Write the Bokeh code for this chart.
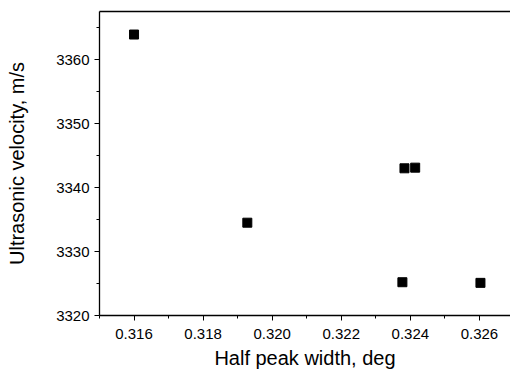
from bokeh.plotting import figure
from bokeh.models import LinearAxis, ColumnDataSource, Range1d, FixedTicker
from bokeh.embed import file_html
from bokeh.resources import INLINE

half_peak_width = [0.3160, 0.31928, 0.32383, 0.32414, 0.32377, 0.32603]
velocity = [3363.9, 3334.5, 3343.0, 3343.1, 3325.2, 3325.1]

x_ticks = [0.316, 0.318, 0.320, 0.322, 0.324, 0.326]
y_ticks = [3320, 3330, 3340, 3350, 3360]

FONT = "Liberation Sans"

p = figure(width=510, height=372, output_backend="svg", toolbar_location=None,
           x_range=Range1d(0.315, 0.3269), y_range=Range1d(3320, 3367.5),
           min_border_left=99, min_border_right=0, min_border_top=11, min_border_bottom=57)
p.outline_line_color = None
p.grid.visible = False
p.background_fill_color = "white"
p.border_fill_color = "white"

src = ColumnDataSource(dict(x=half_peak_width, y=velocity))
p.scatter("x", "y", source=src, marker="square", size=9, fill_color="black", line_color="black")

for ax in (p.xaxis[0], p.yaxis[0]):
    ax.axis_line_color = "black"
    ax.axis_line_width = 1.3
    ax.major_tick_line_color = "black"
    ax.minor_tick_line_color = "black"
    ax.major_tick_in = 0
    ax.major_tick_out = 5
    ax.minor_tick_in = 0
    ax.minor_tick_out = 3
    ax.major_label_text_font = FONT
    ax.major_label_text_font_size = "15px"
    ax.major_label_text_color = "black"
    ax.axis_label_text_font = FONT
    ax.axis_label_text_font_size = "20px"
    ax.axis_label_text_font_style = "normal"
    ax.axis_label_text_color = "black"

p.xaxis[0].ticker = FixedTicker(ticks=x_ticks, minor_ticks=[0.315, 0.317, 0.319, 0.321, 0.323, 0.325])
p.yaxis[0].ticker = FixedTicker(ticks=y_ticks, minor_ticks=[3325, 3335, 3345, 3355, 3365])
p.xaxis[0].major_label_overrides = {t: f"{t:.3f}" for t in x_ticks}
p.xaxis[0].axis_label = "Half peak width, deg"
p.yaxis[0].axis_label = "Ultrasonic velocity, m/s"
p.xaxis[0].major_label_standoff = 8
p.xaxis[0].axis_label_standoff = 5
p.yaxis[0].major_label_standoff = 5
p.yaxis[0].axis_label_standoff = 25

top = LinearAxis(axis_line_color="black", axis_line_width=1.3,
                 major_tick_line_color=None, minor_tick_line_color=None,
                 major_label_text_font_size="0px", major_label_standoff=0,
                 major_tick_out=0, minor_tick_out=0)
top.ticker = FixedTicker(ticks=[])
p.add_layout(top, "above")

open("out.html", "w").write(file_html(p, INLINE))
